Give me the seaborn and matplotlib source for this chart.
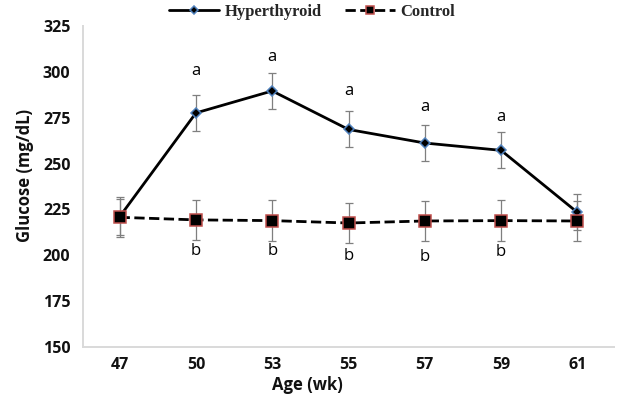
import numpy as np
import pandas as pd
import matplotlib
matplotlib.use("Agg")
import matplotlib.pyplot as plt
import seaborn as sns

# ---- data ----
ages = ["47", "50", "53", "55", "57", "59", "61"]
hyper_mean = [221.0, 277.6, 289.6, 268.6, 261.2, 257.2, 223.4]
hyper_sd = [9.8, 9.8, 9.8, 9.8, 9.8, 9.8, 9.8]
control_mean = [220.7, 219.3, 218.9, 217.6, 218.7, 218.9, 218.7]
control_sd = [11.0, 11.0, 11.0, 11.0, 11.0, 11.0, 11.0]
letters_a = ["", "a", "a", "a", "a", "a", ""]
letters_a_y = [np.nan, 300.5, 308.0, 289.6, 280.8, 275.4, np.nan]
letters_b = ["", "b", "b", "b", "b", "b", ""]
letters_b_y = [np.nan, 202.5, 202.5, 199.8, 198.8, 201.6, np.nan]
y_ticks = [150, 175, 200, 225, 250, 275, 300, 325]

sns.set_theme(style="white")
plt.rcParams["font.family"] = ["Open Sans", "DejaVu Sans"]

fig = plt.figure(figsize=(6.17, 3.99), dpi=100)
ax = fig.add_axes([83 / 617, 52 / 399, 531 / 617, 321 / 399])

xpos = np.arange(len(ages))
err_color = "#7f7f7f"
ax.errorbar(xpos, hyper_mean, yerr=hyper_sd, fmt="none", ecolor=err_color,
            elinewidth=0.9, capsize=3, capthick=0.9, zorder=1)
ax.errorbar(xpos, control_mean, yerr=control_sd, fmt="none", ecolor=err_color,
            elinewidth=0.9, capsize=3, capthick=0.9, zorder=1)

df_h = pd.DataFrame({"Age": ages, "Glucose": hyper_mean})
df_c = pd.DataFrame({"Age": ages, "Glucose": control_mean})

sns.pointplot(data=df_h, x="Age", y="Glucose", order=ages, color="black",
              markers="D", linestyles="-", errorbar=None, ax=ax,
              label="Hyperthyroid", markersize=5.6, markeredgecolor="#4f81bd",
              markeredgewidth=1.1, markerfacecolor="black", linewidth=2.0)
sns.pointplot(data=df_c, x="Age", y="Glucose", order=ages, color="black",
              markers="s", linestyles="--", errorbar=None, ax=ax,
              label="Control", markersize=8.0, markeredgecolor="#c0504d",
              markeredgewidth=1.1, markerfacecolor="black", linewidth=2.0)
for ln in ax.lines:
    ln.set_zorder(3)
ax.lines[-1].set_zorder(4)

for i in range(len(ages)):
    if letters_a[i]:
        ax.text(xpos[i], letters_a_y[i], letters_a[i], ha="center", va="center",
                fontsize=12, color="black")
    if letters_b[i]:
        ax.text(xpos[i], letters_b_y[i], letters_b[i], ha="center", va="center",
                fontsize=12, color="black")

ax.set_xlim(-0.48, len(ages) - 0.52)
ax.set_ylim(150, 325)
ax.set_yticks(y_ticks)
ax.set_yticklabels([str(t) for t in y_ticks])
ax.tick_params(axis="both", length=0, labelsize=11.5, colors="#111111")
ax.tick_params(axis="y", pad=9)
ax.tick_params(axis="x", pad=7)
for lab in ax.get_xticklabels() + ax.get_yticklabels():
    lab.set_fontweight("bold")

ax.set_xlabel("Age (wk)", fontsize=12, fontweight="bold", color="#111111")
ax.set_ylabel("Glucose (mg/dL)", fontsize=12, fontweight="bold", color="#111111")
ax.xaxis.set_label_coords((307 - 83) / 531, (347 - 385) / 321)
ax.xaxis.label.set_va("center")
ax.yaxis.set_label_coords((25 - 83) / 531, (347 - 175) / 321)
ax.yaxis.label.set_va("center")

for s in ["top", "right"]:
    ax.spines[s].set_visible(False)
for s in ["left", "bottom"]:
    ax.spines[s].set_color("#d9d9d9")
    ax.spines[s].set_linewidth(1.4)
ax.grid(False)

if ax.get_legend() is not None:
    ax.get_legend().remove()
handles, labels = ax.get_legend_handles_labels()
fig.legend(handles, labels, loc="center", bbox_to_anchor=(312 / 617, 1 - 12 / 399),
           ncol=2, frameon=False, prop={"family": "Liberation Serif", "weight": "bold", "size": 12},
           handlelength=3.0, handletextpad=0.3, columnspacing=1.4, markerscale=0.75,
           borderpad=0, borderaxespad=0)

fig.savefig("out.png", dpi=100)
